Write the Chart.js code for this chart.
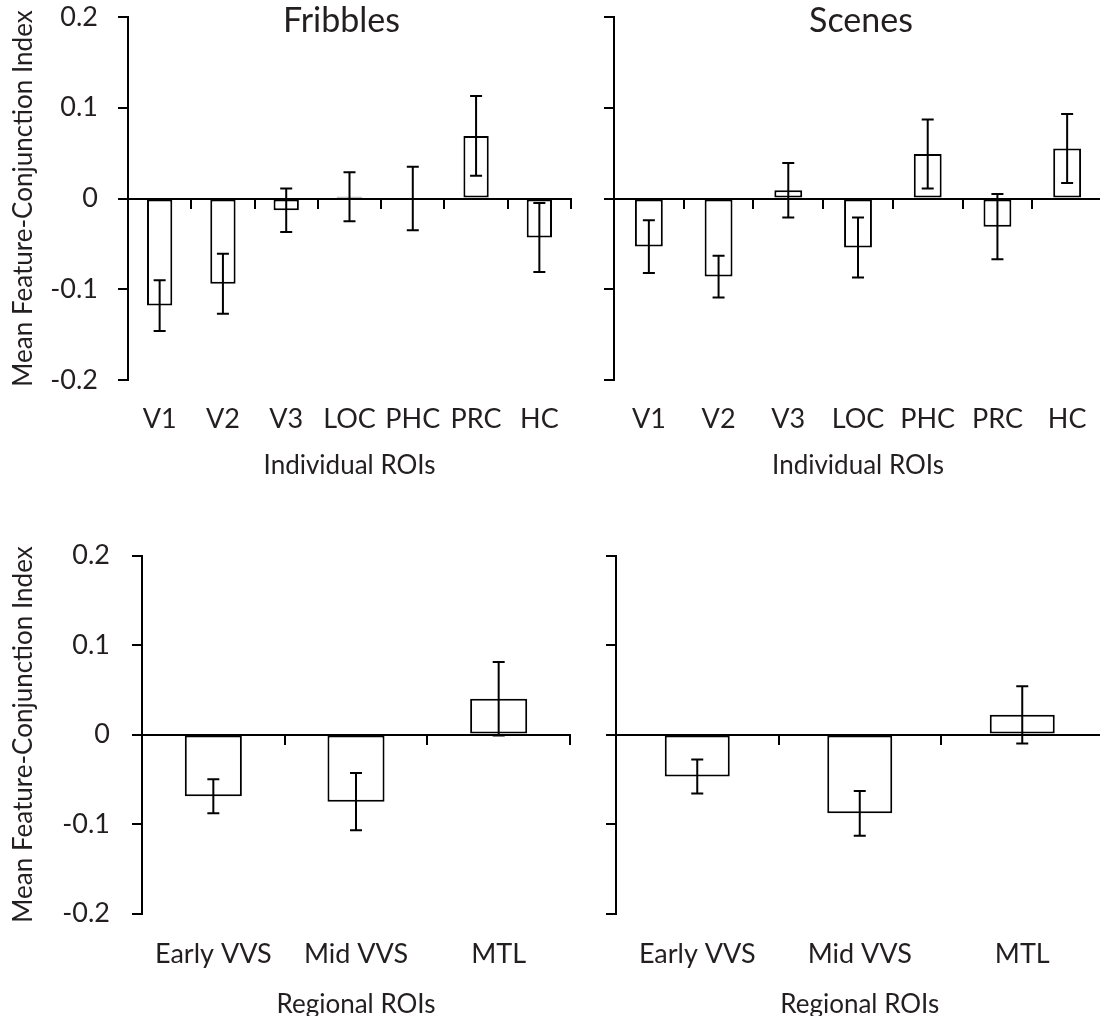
<!DOCTYPE html>
<html lang="en">
  <head>
    <meta charset="UTF-8" />
    <script src="https://cdn.jsdelivr.net/npm/chart.js@4.4.0/dist/chart.umd.min.js"></script>
    <title>Feature-Conjunction Index</title>
    <style>
      html, body { margin: 0; padding: 0; background: #fff; overflow: hidden; }
      .panel { position: absolute; }
      #tl { left: 0; top: 0; width: 590px; height: 500px; }
      #tr { left: 590px; top: 0; width: 520px; height: 500px; }
      #bl { left: 0; top: 500px; width: 590px; height: 520px; }
      #br { left: 590px; top: 500px; width: 520px; height: 520px; }
    </style>
  </head>
  <body>
    <div class="panel" id="tl"><canvas id="cTL"></canvas></div>
    <div class="panel" id="tr"><canvas id="cTR"></canvas></div>
    <div class="panel" id="bl"><canvas id="cBL"></canvas></div>
    <div class="panel" id="br"><canvas id="cBR"></canvas></div>
    <script>
      // data
      const individualROIs = ["V1", "V2", "V3", "LOC", "PHC", "PRC", "HC"];
      const regionalROIs = ["Early VVS", "Mid VVS", "MTL"];

      const fribblesIndividual = [-0.118, -0.094, -0.013, 0.002, 0.0, 0.069, -0.043];
      const fribblesIndividualErr = [0.028, 0.033, 0.024, 0.027, 0.035, 0.044, 0.038];
      const scenesIndividual = [-0.053, -0.086, 0.009, -0.054, 0.049, -0.031, 0.055];
      const scenesIndividualErr = [0.029, 0.023, 0.030, 0.033, 0.038, 0.036, 0.038];

      const fribblesRegional = [-0.069, -0.075, 0.040];
      const fribblesRegionalErr = [0.019, 0.032, 0.041];
      const scenesRegional = [-0.047, -0.088, 0.022];
      const scenesRegionalErr = [0.019, 0.025, 0.032];

      const yTicks = [0.2, 0.1, 0, -0.1, -0.2];

      const INK = "#231f20";
      const FONT = "Lato";

      const errorBars = {
        id: "errorBars",
        afterDatasetsDraw(chart) {
          const ctx = chart.ctx;
          const y = chart.scales.y;
          chart.data.datasets.forEach((ds, i) => {
            const meta = chart.getDatasetMeta(i);
            meta.data.forEach((bar, j) => {
              const top = y.getPixelForValue(ds.data[j] + ds.err[j]);
              const bot = y.getPixelForValue(ds.data[j] - ds.err[j]);
              ctx.save();
              ctx.strokeStyle = "#000";
              ctx.lineWidth = 2;
              ctx.beginPath();
              ctx.moveTo(bar.x, top);
              ctx.lineTo(bar.x, bot);
              ctx.moveTo(bar.x - 6, top);
              ctx.lineTo(bar.x + 6, top);
              ctx.moveTo(bar.x - 6, bot);
              ctx.lineTo(bar.x + 6, bot);
              ctx.stroke();
              ctx.restore();
            });
          });
        },
      };

      const panelTitle = {
        id: "panelTitle",
        afterDraw(chart, args, opts) {
          if (!opts.text) return;
          const a = chart.chartArea;
          const ctx = chart.ctx;
          ctx.save();
          ctx.font = "34px " + FONT;
          ctx.fillStyle = INK;
          ctx.textAlign = "center";
          ctx.textBaseline = "middle";
          ctx.fillText(opts.text, (a.left + a.right) / 2 + opts.dx, opts.y);
          ctx.restore();
        },
      };

      function makePanel(id, cfg) {
        new Chart(document.getElementById(id), {
          type: "bar",
          data: {
            labels: cfg.labels,
            datasets: [
              {
                data: cfg.values,
                err: cfg.errors,
                backgroundColor: "#fff",
                borderColor: "#000",
                borderWidth: 2,
                borderSkipped: false,
                categoryPercentage: 1,
                barPercentage: 0.4,
              },
            ],
          },
          options: {
            responsive: true,
            maintainAspectRatio: false,
            animation: false,
            layout: { padding: { top: cfg.padTop, right: cfg.padRight, left: 0, bottom: 0 } },
            plugins: {
              legend: { display: false },
              tooltip: { enabled: false },
              panelTitle: { text: cfg.title, dx: cfg.titleDx, y: 21 },
            },
            scales: {
              x: {
                type: "category",
                offset: true,
                grid: { display: false, drawTicks: false },
                border: { display: false },
                ticks: {
                  color: INK,
                  font: { family: FONT, size: 27 },
                  padding: cfg.tickPad,
                  maxRotation: 0,
                  autoSkip: false,
                },
                title: {
                  display: true,
                  text: cfg.xTitle,
                  color: INK,
                  font: { family: FONT, size: 26 },
                  padding: { top: 0, bottom: cfg.xTitlePad },
                },
                afterFit: (s) => {
                  s.height = cfg.xHeight;
                  s.paddingLeft = 0;
                  s.paddingRight = 0;
                },
              },
              x2: {
                type: "category",
                labels: cfg.labels,
                position: { y: 0 },
                offset: true,
                z: 1,
                grid: {
                  display: true,
                  offset: true,
                  drawOnChartArea: false,
                  drawTicks: true,
                  tickLength: 9,
                  color: "#000",
                  lineWidth: 2,
                },
                border: { display: true, color: "#000", width: 2 },
                ticks: { display: false },
              },
              y: {
                min: -0.2,
                max: 0.2,
                afterBuildTicks: (s) => { s.ticks = yTicks.map((v) => ({ value: v })); },
                grid: {
                  display: true,
                  drawOnChartArea: false,
                  drawTicks: true,
                  tickLength: 10,
                  color: "#000",
                  lineWidth: 2,
                },
                border: { display: true, color: "#000", width: 2 },
                ticks: {
                  display: cfg.showY,
                  color: INK,
                  font: { family: FONT, size: 27 },
                  padding: cfg.yPad,
                  callback: (v) => String(Math.round(v * 10) / 10),
                },
                title: {
                  display: cfg.showY,
                  text: "Mean Feature-Conjunction Index",
                  color: INK,
                  font: { family: FONT, size: 26 },
                  padding: { top: 8, bottom: 0 },
                },
                afterFit: (s) => {
                  s.width = cfg.yWidth;
                  s.paddingTop = 0;
                  s.paddingBottom = 0;
                },
              },
            },
          },
          plugins: [errorBars, panelTitle],
        });
      }

      makePanel("cTL", {
        labels: individualROIs, values: fribblesIndividual, errors: fribblesIndividualErr,
        title: "Fribbles", titleDx: -8, xTitle: "Individual ROIs",
        padTop: 17, padRight: 19, yWidth: 128, xHeight: 120,
        tickPad: 23, xTitlePad: 19, yPad: 20, showY: true,
      });
      makePanel("cTR", {
        labels: individualROIs, values: scenesIndividual, errors: scenesIndividualErr,
        title: "Scenes", titleDx: 3, xTitle: "Individual ROIs",
        padTop: 17, padRight: 8, yWidth: 24, xHeight: 120,
        tickPad: 23, xTitlePad: 19, yPad: 20, showY: false,
      });
      makePanel("cBL", {
        labels: regionalROIs, values: fribblesRegional, errors: fribblesRegionalErr,
        title: "", titleDx: 0, xTitle: "Regional ROIs",
        padTop: 55.5, padRight: 20, yWidth: 142, xHeight: 106.5,
        tickPad: 25, xTitlePad: 0, yPad: 22, showY: true,
      });
      makePanel("cBR", {
        labels: regionalROIs, values: scenesRegional, errors: scenesRegionalErr,
        title: "", titleDx: 0, xTitle: "Regional ROIs",
        padTop: 55.5, padRight: 6.5, yWidth: 26, xHeight: 106.5,
        tickPad: 25, xTitlePad: 0, yPad: 22, showY: false,
      });
    </script>
  </body>
</html>
